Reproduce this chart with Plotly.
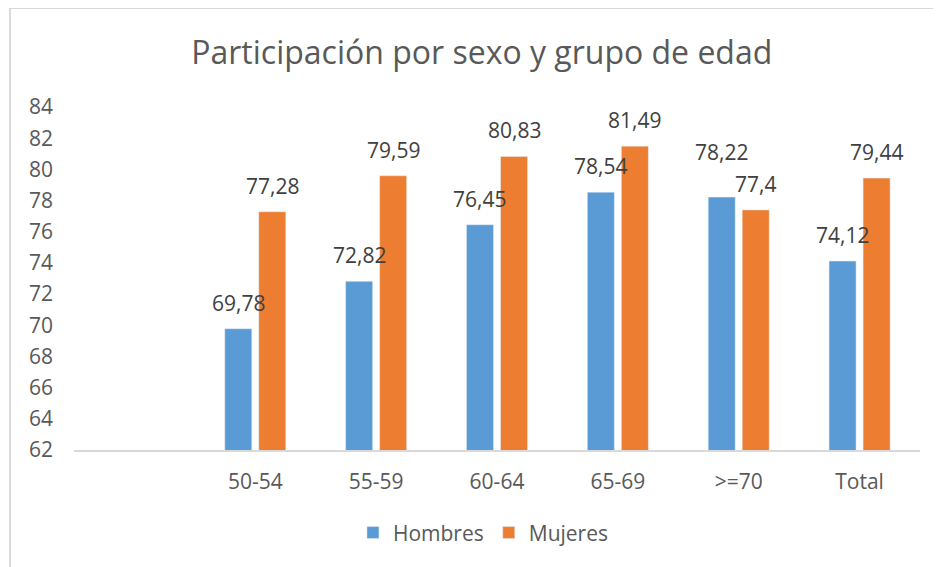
import plotly.graph_objects as go

# Chart data
categories = [" ", "50-54", "55-59", "60-64", "65-69", ">=70", "Total"]
hombres = [None, 69.78, 72.82, 76.45, 78.54, 78.22, 74.12]
mujeres = [None, 77.28, 79.59, 80.83, 81.49, 77.4, 79.44]
y_ticks = list(range(62, 85, 2))

FONT = "Open Sans, Lato, sans-serif"
TEXT_GREY = "#595959"
LABEL_GREY = "#404040"
BARGAP = 0.437
SERIES = [("Hombres", hombres, "#5B9BD5"), ("Mujeres", mujeres, "#ED7D31")]
# labels moved by hand in the original (pixels up)
LABEL_NUDGE = {("Hombres", ">=70"): 19}


def fmt(v):
    """Spanish decimal comma for data labels."""
    return f"{v:g}".replace(".", ",")


fig = go.Figure()
for name, vals, color in SERIES:
    fig.add_trace(go.Bar(name=name, x=categories, y=vals, marker_color=color))

# data labels as annotations so they sit on top of the neighbouring bars
slot = (1 - BARGAP) / len(SERIES)
for k, (name, vals, _) in enumerate(SERIES):
    off = -(1 - BARGAP) / 2 + slot * (k + 0.5)
    for i, (cat, v) in enumerate(zip(categories, vals)):
        if v is None:
            continue
        fig.add_annotation(
            x=i + off, y=v, text=fmt(v), showarrow=False,
            xanchor="center", yanchor="bottom",
            yshift=10 + LABEL_NUDGE.get((name, cat), 0),
            font=dict(size=21, color=LABEL_GREY, family=FONT),
        )

# the page body adds an 8px margin, so the figure is 8px smaller than the window
fig.update_layout(
    width=933, height=559,
    margin=dict(l=66, r=21, t=99, b=117),
    paper_bgcolor="white", plot_bgcolor="white",
    font=dict(family=FONT, color=TEXT_GREY, size=21),
    title=dict(text="Participación por sexo y grupo de edad",
               x=0.482, xref="paper", xanchor="center",
               y=0.92, yanchor="middle",
               font=dict(size=32, color=TEXT_GREY, family=FONT)),
    barmode="group", bargap=BARGAP, bargroupgap=0.206,
    showlegend=True,
    legend=dict(orientation="h", x=0.484, xanchor="center", y=-0.182, yanchor="top",
                font=dict(size=21, color=TEXT_GREY, family=FONT),
                itemwidth=30, traceorder="normal"),
)
fig.update_xaxes(
    type="category", showgrid=False, showline=True, linecolor="#D9D9D9", linewidth=2,
    ticks="", tickfont=dict(size=21, color=TEXT_GREY), ticklabelstandoff=12,
)
fig.update_yaxes(
    range=[62, 84], tickvals=y_ticks, showgrid=False, showline=False, zeroline=False,
    ticks="", tickfont=dict(size=21, color=TEXT_GREY), ticklabelstandoff=20,
)

# Chart border (left and top edges visible in the frame)
fig.add_shape(type="line", xref="paper", yref="paper",
              x0=-0.0757, x1=1.1, y0=1.2886, y1=1.2886,
              line=dict(color="#D9D9D9", width=2))
fig.add_shape(type="line", xref="paper", yref="paper",
              x0=-0.0757, x1=-0.0757, y0=1.2886, y1=-0.4,
              line=dict(color="#D9D9D9", width=2))

fig.write_html("out.html")
